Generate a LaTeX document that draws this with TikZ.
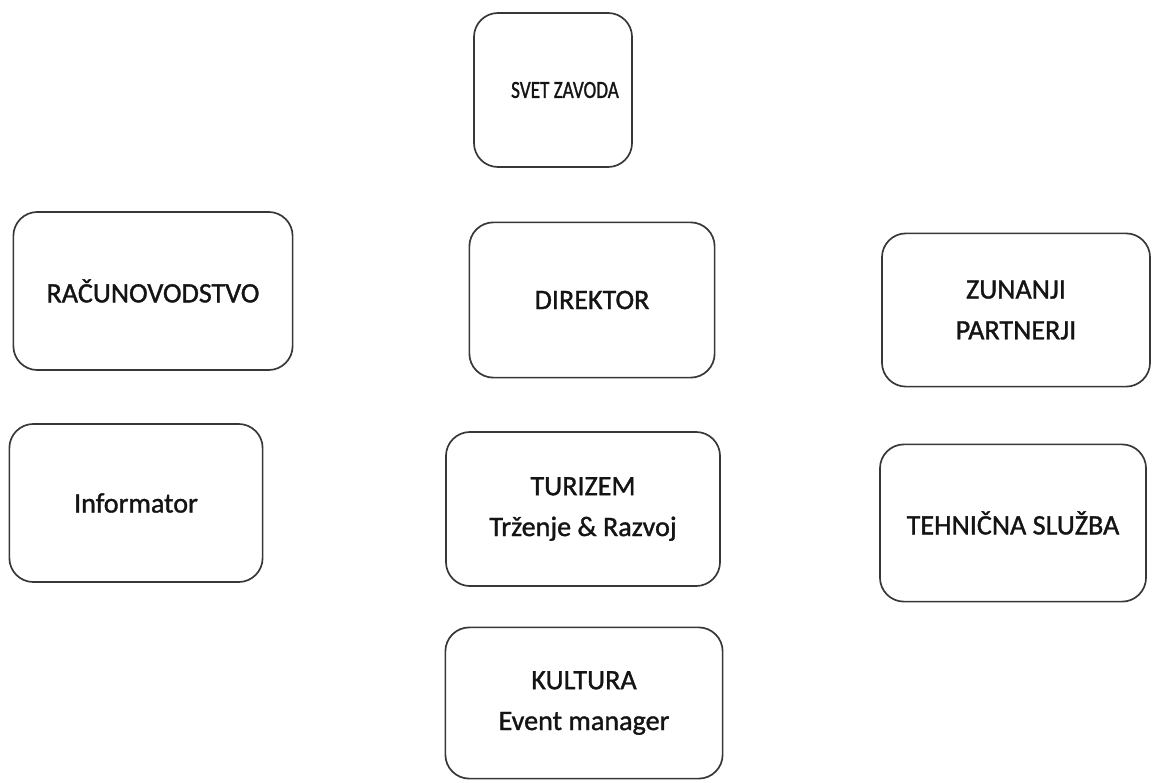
\documentclass[tikz,border=0pt]{standalone}
\usepackage{fontspec}
\setmainfont{Carlito}[AutoFakeBold=1.2]
\usepackage{graphicx}
\usepackage{tikz}
\usetikzlibrary{positioning}
\definecolor{ozInk}{RGB}{55,55,55}
\definecolor{ozText}{RGB}{20,20,20}
\tikzset{
    base/.style={font=\fontsize{20}{29}\selectfont\bfseries, align=center, text=ozText},
    unitbox/.style={base, rectangle, rounded corners=6mm, draw=ozInk, line width=1.2pt,
                    fill=white, inner sep=1mm}
}
\begin{document}
\begin{tikzpicture}[x=0.025cm, y=-0.025cm]
  \useasboundingbox (0,0) rectangle (1161,782);
  % Top of the organisation
  \node[unitbox, minimum width=3.95cm, minimum height=3.85cm,
        font=\fontsize{17.5}{29}\selectfont\bfseries] (svet) at (553,90)
        {\hspace*{6mm}\scalebox{0.78}[1]{SVET ZAVODA}};
  \node[unitbox, minimum width=6.13cm, minimum height=3.88cm] (direktor) at (592,300) {DIREKTOR};

  % Left column
  \node[unitbox, minimum width=6.98cm, minimum height=3.95cm] (racun) at (153,291) {RAČUNOVODSTVO};
  \node[unitbox, minimum width=6.33cm, minimum height=3.95cm] (inform) at (136,503) {Informator};

  % Middle column
  \node[unitbox, minimum width=6.85cm, minimum height=3.85cm] (turizem) at (583,509) {TURIZEM\\Trženje \& Razvoj};
  \node[unitbox, minimum width=6.93cm, minimum height=3.78cm] (kultura) at (584,703) {KULTURA\\Event manager};

  % Right column
  \node[unitbox, minimum width=6.70cm, minimum height=3.83cm] (zunanji) at (1016,310) {ZUNANJI\\PARTNERJI};
  \node[unitbox, minimum width=6.65cm, minimum height=3.93cm] (tehnika) at (1013,523) {TEHNIČNA SLUŽBA};
\end{tikzpicture}
\end{document}
